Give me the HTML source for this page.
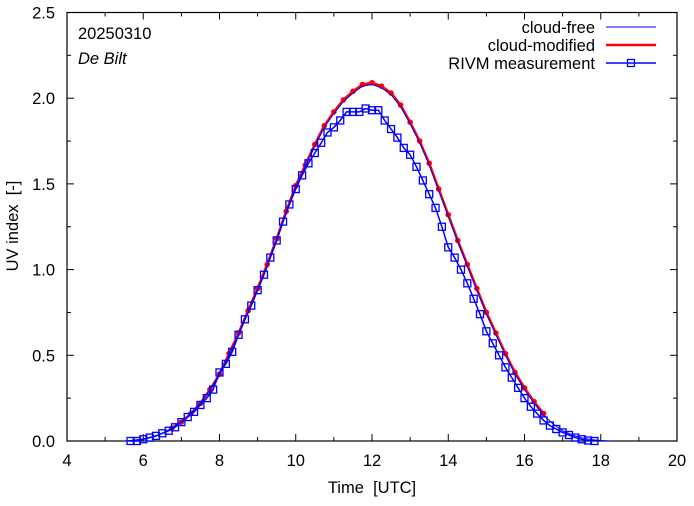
<!DOCTYPE html>
<html><head><meta charset="utf-8"><style>
body{margin:0;background:#fff}
svg text{font-family:"Liberation Sans",sans-serif;font-size:16.5px;fill:#000;white-space:pre}
</style></head><body>
<svg id="c" width="694" height="501"></svg>
<script>
const clearT=[];for(let i=0;i<52;i++)clearT.push(5.5+i*0.25);
const clearV=[0,0.005,0.012,0.025,0.045,0.075,0.11,0.16,0.22,0.3,0.39,0.5,0.62,0.75,0.88,1.02,1.17,1.33,1.48,1.6,1.72,1.83,1.91,1.98,2.03,2.07,2.08,2.06,2.02,1.95,1.85,1.74,1.61,1.46,1.31,1.16,1.02,0.88,0.74,0.62,0.5,0.39,0.3,0.22,0.15,0.1,0.06,0.035,0.018,0.008,0.003,0];
const cloudT=[];for(let i=0;i<40;i++)cloudT.push(6.75+i*0.25);
const cloudV=[0.075,0.11,0.16,0.22,0.3,0.39,0.51,0.63,0.76,0.89,1.03,1.18,1.34,1.49,1.61,1.73,1.84,1.92,1.99,2.04,2.08,2.09,2.07,2.03,1.96,1.86,1.75,1.62,1.47,1.32,1.17,1.03,0.89,0.75,0.63,0.51,0.4,0.31,0.23,0.16];
const measT=[];for(let i=0;i<74;i++)measT.push(5.6667+i/6);
const measV=[0,0,0.01,0.02,0.03,0.045,0.06,0.08,0.11,0.14,0.17,0.21,0.25,0.3,0.4,0.45,0.52,0.62,0.71,0.79,0.88,0.97,1.07,1.17,1.28,1.38,1.47,1.55,1.62,1.68,1.74,1.8,1.83,1.87,1.92,1.92,1.92,1.94,1.93,1.93,1.87,1.82,1.77,1.71,1.67,1.6,1.52,1.44,1.36,1.25,1.13,1.07,1.0,0.92,0.83,0.74,0.64,0.57,0.5,0.43,0.37,0.31,0.25,0.2,0.16,0.12,0.09,0.07,0.05,0.035,0.02,0.01,0.003,0];
const xTicks=[4,6,8,10,12,14,16,18,20];
const yTicks=[0,0.5,1,1.5,2,2.5];
const X0=67,X1=677,Y0=441,Y1=12.5;
const sx=t=>X0+(t-4)/16*(X1-X0), sy=v=>Y0-v/2.5*(Y0-Y1);
const svg=document.getElementById('c'),NS='http://www.w3.org/2000/svg';
function mk(tag,a,parent){const e=document.createElementNS(NS,tag);for(const k in a)e.setAttribute(k,a[k]);(parent||svg).appendChild(e);return e;}
let e=mk('rect',{x:X0,y:Y1,width:X1-X0,height:Y0-Y1,fill:'none',stroke:'#000','stroke-width':1.2});


for(let t=4;t<=20;t+=1){const L=(t%2===0)?7:4;
 mk('line',{x1:sx(t),x2:sx(t),y1:Y0,y2:Y0-L,stroke:'#000'});mk('line',{x1:sx(t),x2:sx(t),y1:Y1,y2:Y1+L,stroke:'#000'});}
for(let v=0;v<=2.5001;v+=0.25){const L=(Math.round(v*4)%2===0)?7:4;
 mk('line',{x1:X0,x2:X0+L,y1:sy(v),y2:sy(v),stroke:'#000'});mk('line',{x1:X1,x2:X1-L,y1:sy(v),y2:sy(v),stroke:'#000'});}
xTicks.forEach(t=>{e=mk('text',{x:sx(t),y:466,'text-anchor':'middle'});e.textContent=t;

});
yTicks.forEach(v=>{e=mk('text',{x:55,y:sy(v)+6,'text-anchor':'end'});e.textContent=v.toFixed(1);

});
e=mk('text',{x:372,y:493,'text-anchor':'middle'});e.textContent='Time  [UTC]';


e=mk('text',{x:0,y:0,'text-anchor':'middle',transform:'translate(18,226) rotate(-90)'});e.textContent='UV index  [-]';


e=mk('text',{x:78,y:39});e.textContent='20250310';


e=mk('text',{x:78,y:64,'font-style':'italic'});e.textContent='De Bilt';


const pts=(T,V)=>T.map((t,i)=>sx(t).toFixed(1)+','+sy(V[i]).toFixed(1)).join(' ');
e=mk('polyline',{points:pts(cloudT,cloudV),fill:'none',stroke:'#f00','stroke-width':2.5});


cloudT.forEach((t,i)=>{e=mk('circle',{cx:sx(t),cy:sy(cloudV[i]),r:2.8,fill:'#f00'});

});
e=mk('polyline',{points:pts(clearT,clearV),fill:'none',stroke:'#00f','stroke-width':1});


e=mk('polyline',{points:pts(measT,measV),fill:'none',stroke:'#00f','stroke-width':1.5});


measT.forEach((t,i)=>{e=mk('rect',{x:sx(t)-3.5,y:sy(measV[i])-3.5,width:7,height:7,fill:'none',stroke:'#00f','stroke-width':1.3});

});
const leg=[['cloud-free',27,'#00f',1],['cloud-modified',45,'#f00',2.5],['RIVM measurement',63,'#00f',1.5]];
leg.forEach((l,i)=>{e=mk('text',{x:595,y:l[1]+6,'text-anchor':'end'});e.textContent=l[0];


mk('line',{x1:606,x2:656,y1:l[1],y2:l[1],stroke:l[2],'stroke-width':l[3]});
if(i===2)mk('rect',{x:627.5,y:l[1]-3.5,width:7,height:7,fill:'none',stroke:'#00f','stroke-width':1.3});});
</script>
</body></html>
